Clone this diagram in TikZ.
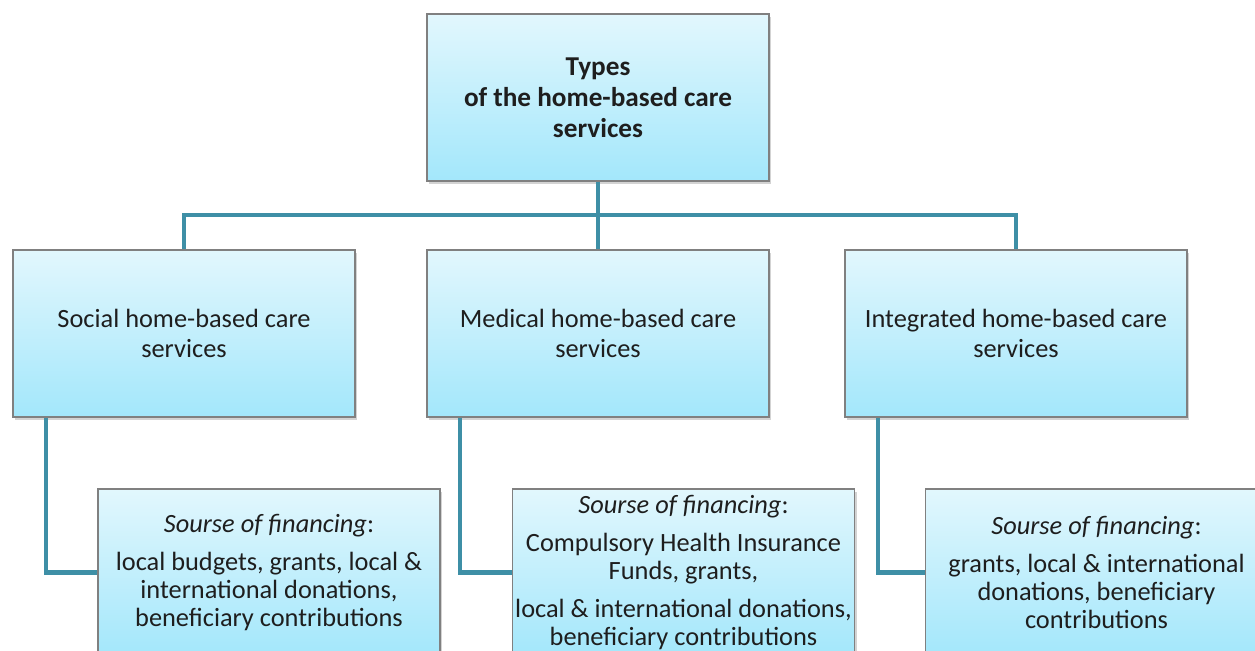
\documentclass[tikz,border=0pt]{standalone}
\usepackage{fontspec}
\setmainfont{Carlito}
\usepackage{xcolor}
\usepackage{tikz}
\definecolor{boxtop}{RGB}{226, 247, 253}
\definecolor{boxbottom}{RGB}{163, 231, 251}
\definecolor{boxline}{RGB}{128, 128, 128}
\definecolor{linkcolor}{RGB}{62, 143, 166}
\definecolor{textcolor}{RGB}{30, 30, 30}
\usetikzlibrary{positioning, shadows, calc}

\begin{document}
\begin{tikzpicture}[
    carebox/.style={rectangle, draw=boxline, line width=0.6pt, top color=boxtop, bottom color=boxbottom, minimum width=6.84cm, minimum height=3.34cm, align=center, text=textcolor, font=\fontsize{15}{17}\selectfont, drop shadow={shadow xshift=1.2pt, shadow yshift=-1.5pt, opacity=0.35}},
    sourcebox/.style={carebox, inner xsep=1pt, font=\fontsize{15}{15.8}\selectfont},
    link/.style={draw=linkcolor, line width=2.8pt}
]
    \useasboundingbox (0, 0) rectangle (25.1, 13.02);
    \clip (0, 0) rectangle (25.1, 13.02);

    \node[carebox, font=\fontsize{15.5}{17.6}\selectfont\bfseries] (types) at (11.96, 11.07) {
        Types\\
        of the home-based care\\
        services
    };

    \node[carebox] (social) at (3.68, 6.35) {
        Social home-based care\\
        services
    };
    \node[carebox] (medical) at (11.96, 6.35) {
        Medical home-based care\\
        services
    };
    \node[carebox] (integrated) at (20.32, 6.35) {
        Integrated home-based care\\
        services
    };

    \node[sourcebox] (srcsocial) at (5.38, 1.57) {
        \textit{Sourse of financing}:\\[6pt]
        local budgets, grants, local \&\\
        international donations,\\
        beneficiary contributions
    };
    \node[sourcebox] (srcmedical) at (13.67, 1.57) {
        \textit{Sourse of financing}:\\[6pt]
        Compulsory Health Insurance\\
        Funds, grants,\\[6pt]
        local \& international donations,\\
        beneficiary contributions
    };
    \node[sourcebox] (srcintegrated) at (21.93, 1.57) {
        \textit{Sourse of financing}:\\[6pt]
        grants, local \& international\\
        donations, beneficiary\\
        contributions
    };

    \coordinate (bus) at (11.96, 8.72);
    \draw[link] (types.south) -- (bus);
    \draw[link] (social.north) |- (bus) -| (integrated.north);
    \draw[link] (bus) -- (medical.north);
    \draw[link] ([xshift=0.67cm]social.south west) |- (srcsocial.west);
    \draw[link] ([xshift=0.67cm]medical.south west) |- (srcmedical.west);
    \draw[link] ([xshift=0.67cm]integrated.south west) |- (srcintegrated.west);
\end{tikzpicture}
\end{document}
